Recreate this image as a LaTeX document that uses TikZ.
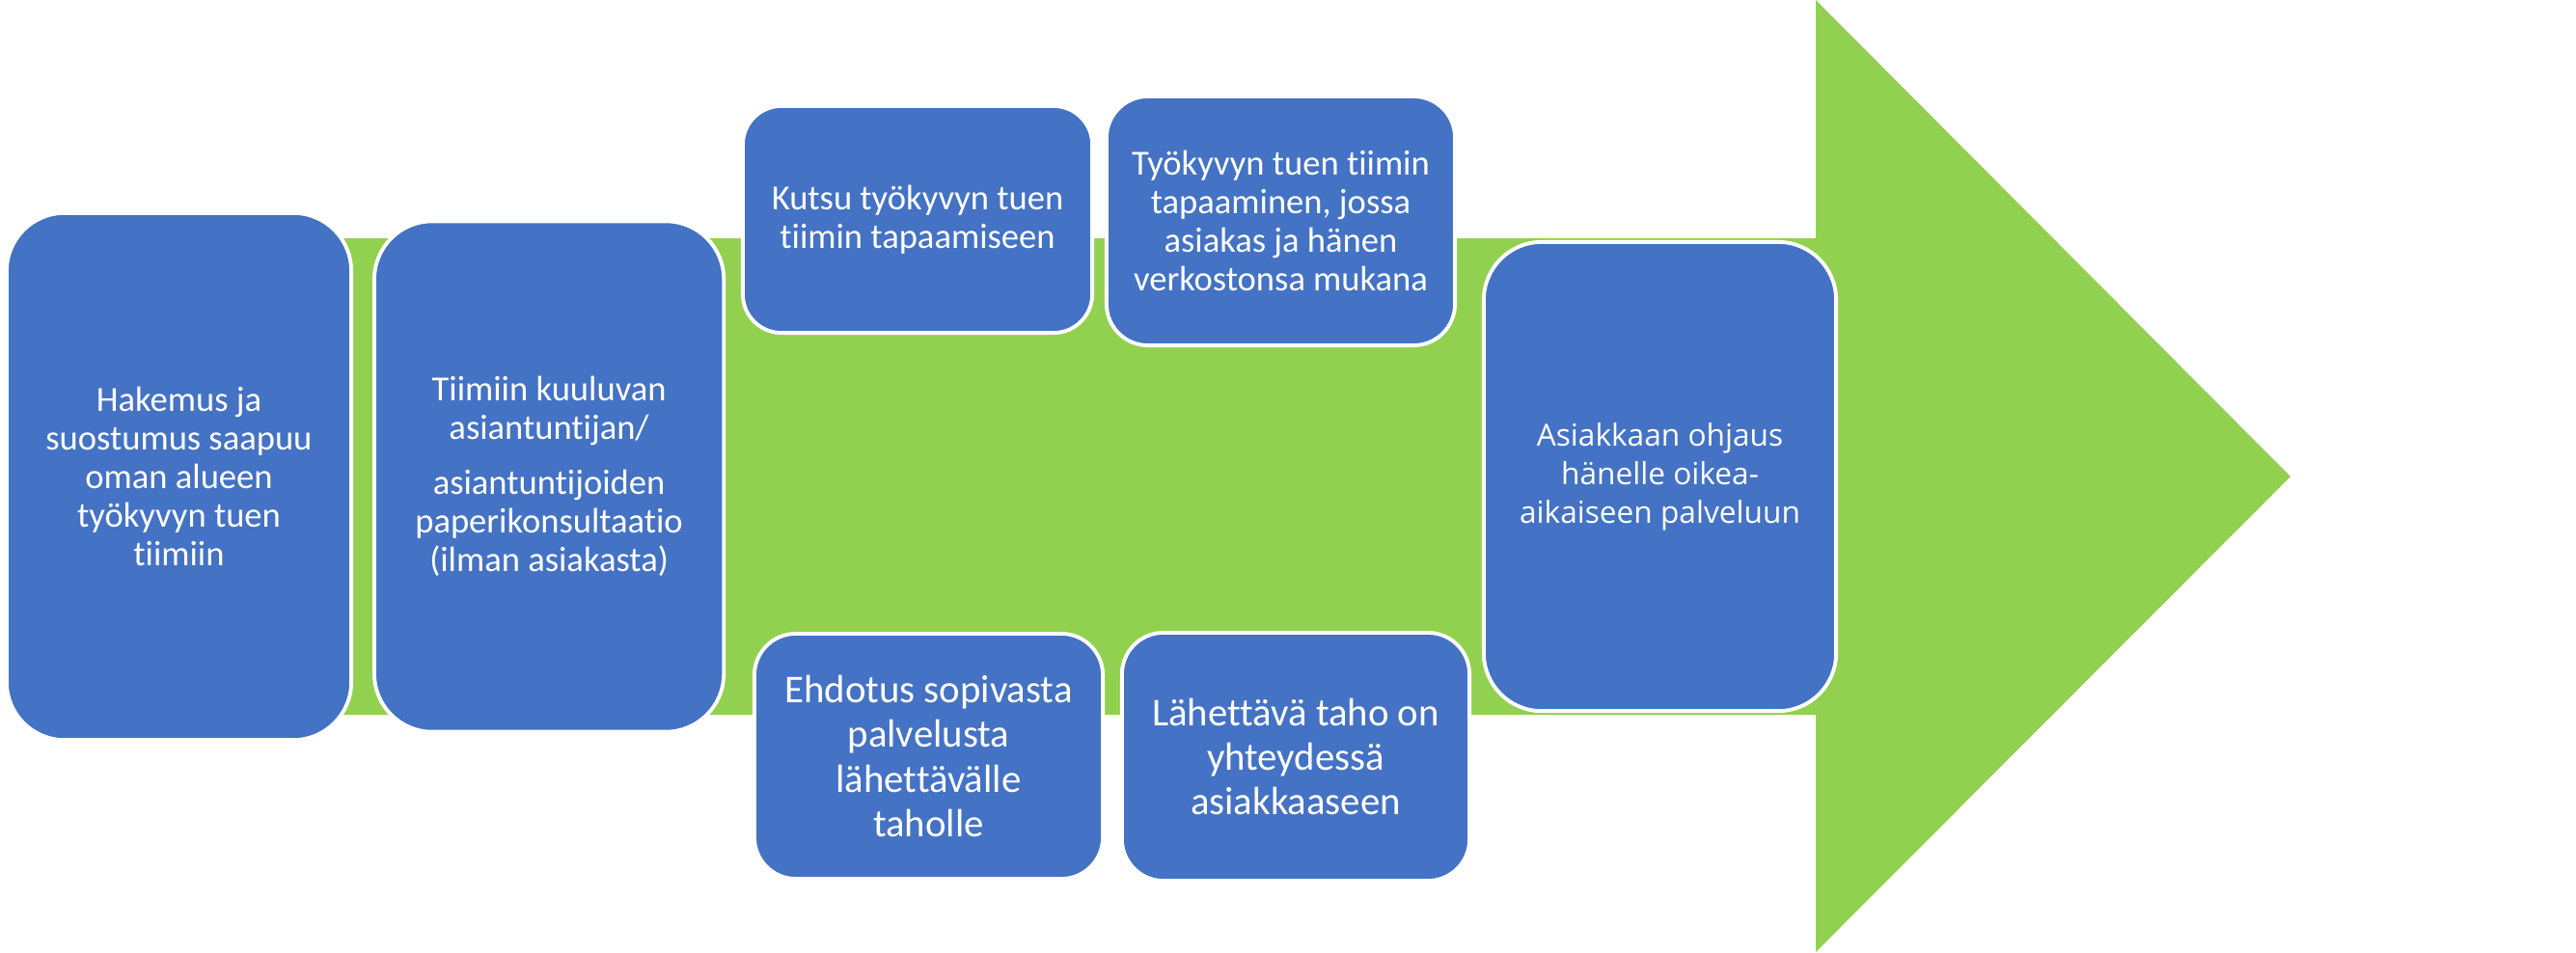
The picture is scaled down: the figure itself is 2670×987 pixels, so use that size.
\documentclass[tikz,border=0pt]{standalone}
\usepackage{fontspec}
\setmainfont{Carlito}[Ligatures=NoCommon]
\newfontfamily\ohjfont{Open Sans}
\usetikzlibrary{positioning}
\definecolor{boxblue}{HTML}{4472C4}
\definecolor{arrowgreen}{HTML}{92D050}
\tikzset{
  stepbox/.style={draw=white, line width=1.1pt, fill=boxblue, text=white,
    align=center, inner sep=2pt, font=\fontsize{10.4}{11.4}\selectfont},
  bigtext/.style={font=\fontsize{11.6}{13.1}\selectfont},
}

\begin{document}
\begin{tikzpicture}[x=0.01cm, y=-0.01cm]
  \useasboundingbox (0,0) rectangle (2670,987);
  % big arrow behind the steps
  \fill[arrowgreen] (20,247) -- (1882,247) -- (1882,0) -- (2374,494)
    -- (1882,987) -- (1882,741) -- (20,741) -- cycle;

  \node[stepbox, minimum width=3.57cm, minimum height=5.46cm, rounded corners=0.6cm]
    (a) at (185.5,494) {Hakemus ja\\suostumus saapuu\\oman alueen\\työkyvyn tuen\\tiimiin};
  \node[stepbox, minimum width=3.62cm, minimum height=5.29cm, rounded corners=0.6cm,
    right=0.2cm of a] (b)
    {Tiimiin kuuluvan\\asiantuntijan/\\[4.9pt]asiantuntijoiden\\paperikonsultaatio\\(ilman asiakasta)};
  \node[stepbox, minimum width=3.62cm, minimum height=2.35cm, rounded corners=0.4cm]
    (c) at (951,227.5) {Kutsu työkyvyn tuen\\tiimin tapaamiseen};
  \node[stepbox, minimum width=3.61cm, minimum height=2.58cm, rounded corners=0.43cm]
    (d) at (1327.5,229) {Työkyvyn tuen tiimin\\tapaaminen, jossa\\asiakas ja hänen\\verkostonsa mukana};
  \node[stepbox, bigtext, minimum width=3.61cm, minimum height=2.54cm, rounded corners=0.43cm]
    (e) at (962.5,784) {Ehdotus sopivasta\\palvelusta\\lähettävälle\\taholle};
  \node[stepbox, bigtext, minimum width=3.60cm, minimum height=2.57cm, rounded corners=0.43cm]
    (f) at (1343,784.5) {Lähettävä taho on\\yhteydessä\\asiakkaaseen};
  \node[stepbox, font=\ohjfont\fontsize{9}{11.4}\selectfont, minimum width=3.65cm,
    minimum height=4.86cm, rounded corners=0.6cm]
    (g) at (1720.5,494) {Asiakkaan ohjaus\\hänelle oikea-\\aikaiseen palveluun};
\end{tikzpicture}
\end{document}
